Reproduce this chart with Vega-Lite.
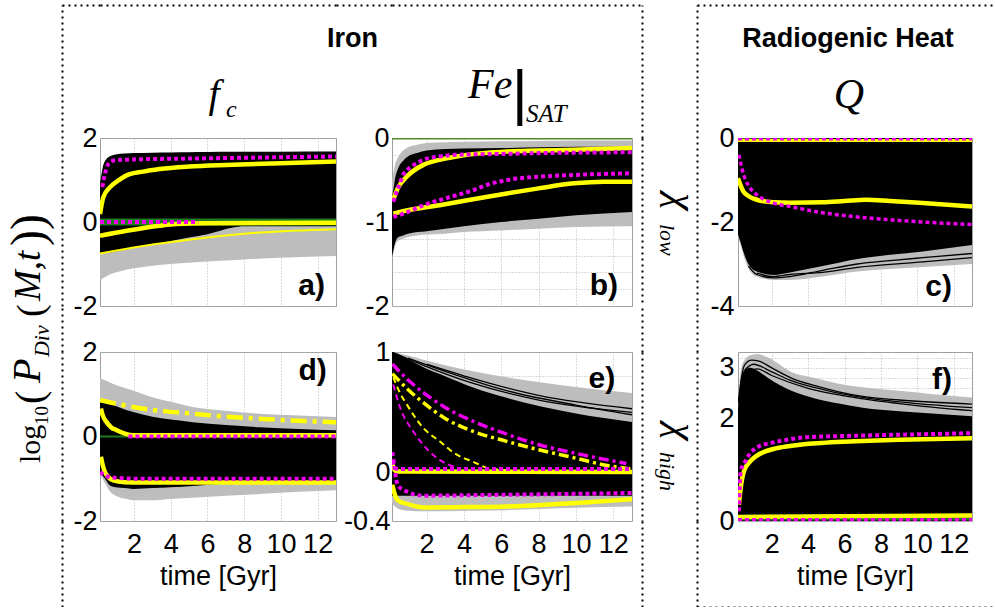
{
"$schema": "https://vega.github.io/schema/vega-lite/v6.json",
"background": "white",
"padding": {"left": 0, "top": 5, "right": 0, "bottom": 0},
"columns": 10,
"spacing": 0,
"bounds": "flush",
"align": "each",
"config": {"view": {"stroke": null}, "axis": {"labelFont": "Liberation Sans", "titleFont": "Liberation Sans"}},
"datasets": {
"a_band": [
{"b":"gray","t":0.15,"lo":-1.40,"hi":-0.05},{"b":"gray","t":0.3,"lo":-1.34,"hi":-0.05},{"b":"gray","t":0.5,"lo":-1.29,"hi":-0.05},{"b":"gray","t":0.75,"lo":-1.24,"hi":-0.05},{"b":"gray","t":1,"lo":-1.20,"hi":-0.05},{"b":"gray","t":1.5,"lo":-1.14,"hi":-0.05},{"b":"gray","t":2,"lo":-1.10,"hi":-0.05},{"b":"gray","t":3,"lo":-1.04,"hi":-0.05},{"b":"gray","t":4,"lo":-1.00,"hi":-0.05},{"b":"gray","t":5,"lo":-0.97,"hi":-0.05},{"b":"gray","t":6,"lo":-0.94,"hi":-0.05},{"b":"gray","t":8,"lo":-0.89,"hi":-0.05},{"b":"gray","t":10,"lo":-0.85,"hi":-0.05},{"b":"gray","t":13,"lo":-0.81,"hi":-0.05},
{"b":"black","t":0.15,"lo":-0.74,"hi":0.90},{"b":"black","t":0.3,"lo":-0.74,"hi":1.30},{"b":"black","t":0.5,"lo":-0.73,"hi":1.50},{"b":"black","t":0.75,"lo":-0.72,"hi":1.58},{"b":"black","t":1,"lo":-0.70,"hi":1.61},{"b":"black","t":1.5,"lo":-0.66,"hi":1.63},{"b":"black","t":2,"lo":-0.61,"hi":1.64},{"b":"black","t":3,"lo":-0.53,"hi":1.65},{"b":"black","t":4,"lo":-0.45,"hi":1.655},{"b":"black","t":5,"lo":-0.37,"hi":1.66},{"b":"black","t":6,"lo":-0.29,"hi":1.665},{"b":"black","t":7.4,"lo":-0.13,"hi":1.67},{"b":"black","t":8,"lo":-0.10,"hi":1.67},{"b":"black","t":10,"lo":-0.10,"hi":1.675},{"b":"black","t":13,"lo":-0.10,"hi":1.68}
],
"a_line": [
{"s":"g","t":0.15,"v":0},{"s":"g","t":13,"v":0},
{"s":"Y1","t":0.15,"v":0.19},{"s":"Y1","t":0.33,"v":0.59},{"s":"Y1","t":0.7,"v":0.83},{"s":"Y1","t":1.15,"v":0.99},{"s":"Y1","t":1.6,"v":1.11},{"s":"Y1","t":2.5,"v":1.20},{"s":"Y1","t":3.4,"v":1.26},{"s":"Y1","t":5,"v":1.32},{"s":"Y1","t":7,"v":1.36},{"s":"Y1","t":10,"v":1.40},{"s":"Y1","t":13,"v":1.44},
{"s":"Y2","t":0.15,"v":-0.33},{"s":"Y2","t":1.6,"v":-0.21},{"s":"Y2","t":3.4,"v":-0.09},{"s":"Y2","t":4.3,"v":-0.05},{"s":"Y2","t":6,"v":-0.03},{"s":"Y2","t":13,"v":-0.02},
{"s":"y1","t":0.15,"v":-0.75},{"s":"y1","t":2.5,"v":-0.57},{"s":"y1","t":5.2,"v":-0.41},{"s":"y1","t":8.9,"v":-0.25},{"s":"y1","t":13,"v":-0.17},
{"s":"y2","t":5.5,"v":0},{"s":"y2","t":13,"v":0},
{"s":"M1","t":0.28,"v":0.83},{"s":"M1","t":0.42,"v":1.15},{"s":"M1","t":0.7,"v":1.43},{"s":"M1","t":1,"v":1.47},{"s":"M1","t":2,"v":1.49},{"s":"M1","t":5,"v":1.51},{"s":"M1","t":8,"v":1.53},{"s":"M1","t":13,"v":1.56},
{"s":"M2","t":0.15,"v":0},{"s":"M2","t":5.5,"v":0}
],
"b_band": [
{"b":"gray","t":0.15,"lo":-1.45,"hi":-0.50},{"b":"gray","t":0.22,"lo":-1.38,"hi":-0.42},{"b":"gray","t":0.3,"lo":-1.30,"hi":-0.33},{"b":"gray","t":0.5,"lo":-1.22,"hi":-0.22},{"b":"gray","t":0.75,"lo":-1.20,"hi":-0.15},{"b":"gray","t":1,"lo":-1.18,"hi":-0.11},{"b":"gray","t":1.5,"lo":-1.16,"hi":-0.08},{"b":"gray","t":2,"lo":-1.15,"hi":-0.06},{"b":"gray","t":3,"lo":-1.14,"hi":-0.05},{"b":"gray","t":4,"lo":-1.12,"hi":-0.045},{"b":"gray","t":6,"lo":-1.10,"hi":-0.04},{"b":"gray","t":8,"lo":-1.08,"hi":-0.035},{"b":"gray","t":10,"lo":-1.06,"hi":-0.03},{"b":"gray","t":13,"lo":-1.05,"hi":-0.03},
{"b":"black","t":0.15,"lo":-1.42,"hi":-0.70},{"b":"black","t":0.22,"lo":-1.34,"hi":-0.62},{"b":"black","t":0.3,"lo":-1.26,"hi":-0.50},{"b":"black","t":0.5,"lo":-1.18,"hi":-0.35},{"b":"black","t":0.75,"lo":-1.16,"hi":-0.27},{"b":"black","t":1,"lo":-1.14,"hi":-0.22},{"b":"black","t":1.5,"lo":-1.12,"hi":-0.18},{"b":"black","t":2,"lo":-1.11,"hi":-0.15},{"b":"black","t":3,"lo":-1.08,"hi":-0.13},{"b":"black","t":4,"lo":-1.05,"hi":-0.125},{"b":"black","t":6,"lo":-1.00,"hi":-0.12},{"b":"black","t":8,"lo":-0.96,"hi":-0.11},{"b":"black","t":10,"lo":-0.92,"hi":-0.105},{"b":"black","t":13,"lo":-0.88,"hi":-0.10}
],
"b_line": [
{"s":"g","t":0.15,"v":0},{"s":"g","t":13,"v":0},
{"s":"Y1","t":0.22,"v":-0.73},{"s":"Y1","t":0.5,"v":-0.58},{"s":"Y1","t":0.94,"v":-0.46},{"s":"Y1","t":1.83,"v":-0.32},{"s":"Y1","t":2.7,"v":-0.26},{"s":"Y1","t":3.6,"v":-0.22},{"s":"Y1","t":5,"v":-0.18},{"s":"Y1","t":6.3,"v":-0.16},{"s":"Y1","t":8,"v":-0.15},{"s":"Y1","t":9.9,"v":-0.14},{"s":"Y1","t":13,"v":-0.12},
{"s":"Y2","t":0.22,"v":-0.90},{"s":"Y2","t":1,"v":-0.86},{"s":"Y2","t":2.7,"v":-0.80},{"s":"Y2","t":4.5,"v":-0.73},{"s":"Y2","t":6.3,"v":-0.66},{"s":"Y2","t":8,"v":-0.60},{"s":"Y2","t":9.9,"v":-0.54},{"s":"Y2","t":11.5,"v":-0.52},{"s":"Y2","t":13,"v":-0.52},
{"s":"M1","t":0.22,"v":-0.76},{"s":"M1","t":0.5,"v":-0.58},{"s":"M1","t":0.75,"v":-0.44},{"s":"M1","t":1.2,"v":-0.34},{"s":"M1","t":1.83,"v":-0.26},{"s":"M1","t":2.7,"v":-0.22},{"s":"M1","t":3.6,"v":-0.20},{"s":"M1","t":6,"v":-0.19},{"s":"M1","t":8.1,"v":-0.18},{"s":"M1","t":13,"v":-0.17},
{"s":"M2","t":0.22,"v":-0.94},{"s":"M2","t":1,"v":-0.88},{"s":"M2","t":1.83,"v":-0.80},{"s":"M2","t":3,"v":-0.72},{"s":"M2","t":4.5,"v":-0.62},{"s":"M2","t":5.5,"v":-0.54},{"s":"M2","t":6.3,"v":-0.50},{"s":"M2","t":8.1,"v":-0.46},{"s":"M2","t":9.9,"v":-0.44},{"s":"M2","t":13,"v":-0.42}
],
"c_band": [
{"b":"gray","t":0.15,"lo":-2.35,"hi":-2.2},{"b":"gray","t":0.3,"lo":-2.55,"hi":-2.2},{"b":"gray","t":0.44,"lo":-2.78,"hi":-2.2},{"b":"gray","t":0.72,"lo":-3.1,"hi":-2.2},{"b":"gray","t":1.18,"lo":-3.3,"hi":-2.2},{"b":"gray","t":2.1,"lo":-3.38,"hi":-2.2},{"b":"gray","t":3,"lo":-3.38,"hi":-2.2},{"b":"gray","t":4.8,"lo":-3.3,"hi":-2.2},{"b":"gray","t":6.7,"lo":-3.18,"hi":-2.2},{"b":"gray","t":8.5,"lo":-3.12,"hi":-2.2},{"b":"gray","t":10.3,"lo":-3.07,"hi":-2.2},{"b":"gray","t":13,"lo":-3.0,"hi":-2.2},
{"b":"black","t":0.15,"lo":-2.3,"hi":0},{"b":"black","t":0.3,"lo":-2.5,"hi":0},{"b":"black","t":0.44,"lo":-2.7,"hi":0},{"b":"black","t":0.72,"lo":-3.0,"hi":0},{"b":"black","t":1.18,"lo":-3.18,"hi":0},{"b":"black","t":2.1,"lo":-3.26,"hi":0},{"b":"black","t":3,"lo":-3.2,"hi":0},{"b":"black","t":4.8,"lo":-3.05,"hi":0},{"b":"black","t":6.7,"lo":-2.88,"hi":0},{"b":"black","t":8.5,"lo":-2.78,"hi":0},{"b":"black","t":10.3,"lo":-2.7,"hi":0},{"b":"black","t":13,"lo":-2.55,"hi":0}
],
"c_line": [
{"s":"g","t":0.15,"v":-0.01},{"s":"g","t":5,"v":-0.01},
{"s":"k1","t":0.72,"v":-3.05},{"s":"k1","t":1.18,"v":-3.25},{"s":"k1","t":2.1,"v":-3.33},{"s":"k1","t":3,"v":-3.3},{"s":"k1","t":4.8,"v":-3.15},{"s":"k1","t":6.7,"v":-3.0},{"s":"k1","t":8.5,"v":-2.92},{"s":"k1","t":10.3,"v":-2.85},{"s":"k1","t":13,"v":-2.75},
{"s":"k2","t":1.18,"v":-3.22},{"s":"k2","t":2.1,"v":-3.3},{"s":"k2","t":3,"v":-3.25},{"s":"k2","t":4.8,"v":-3.2},{"s":"k2","t":6.7,"v":-3.08},{"s":"k2","t":10.3,"v":-2.95},{"s":"k2","t":13,"v":-2.85},
{"s":"Y1","t":0.15,"v":-0.96},{"s":"Y1","t":0.44,"v":-1.27},{"s":"Y1","t":0.72,"v":-1.38},{"s":"Y1","t":1.18,"v":-1.47},{"s":"Y1","t":2.1,"v":-1.53},{"s":"Y1","t":3,"v":-1.54},{"s":"Y1","t":4.8,"v":-1.53},{"s":"Y1","t":6,"v":-1.50},{"s":"Y1","t":7.2,"v":-1.47},{"s":"Y1","t":8.5,"v":-1.50},{"s":"Y1","t":10.3,"v":-1.55},{"s":"Y1","t":13,"v":-1.63},
{"s":"y1","t":0.15,"v":-0.06},{"s":"y1","t":13,"v":-0.06},
{"s":"M1","t":0.2,"v":-0.40},{"s":"M1","t":0.35,"v":-0.70},{"s":"M1","t":0.53,"v":-0.96},{"s":"M1","t":0.8,"v":-1.18},{"s":"M1","t":1.18,"v":-1.35},{"s":"M1","t":2.1,"v":-1.55},{"s":"M1","t":3,"v":-1.63},{"s":"M1","t":4.8,"v":-1.78},{"s":"M1","t":7.2,"v":-1.90},{"s":"M1","t":10.3,"v":-2.00},{"s":"M1","t":13,"v":-2.06},
{"s":"m1","t":0.15,"v":-0.02},{"s":"m1","t":13,"v":-0.02}
],
"d_band": [
{"b":"gray","t":0.15,"lo":-0.90,"hi":1.37},{"b":"gray","t":0.42,"lo":-1.10,"hi":1.33},{"b":"gray","t":0.69,"lo":-1.30,"hi":1.28},{"b":"gray","t":1,"lo":-1.40,"hi":1.22},{"b":"gray","t":1.5,"lo":-1.47,"hi":1.15},{"b":"gray","t":1.96,"lo":-1.51,"hi":1.09},{"b":"gray","t":3,"lo":-1.51,"hi":0.93},{"b":"gray","t":4,"lo":-1.48,"hi":0.82},{"b":"gray","t":5.2,"lo":-1.45,"hi":0.70},{"b":"gray","t":7,"lo":-1.40,"hi":0.61},{"b":"gray","t":8.86,"lo":-1.36,"hi":0.54},{"b":"gray","t":11,"lo":-1.31,"hi":0.50},{"b":"gray","t":13,"lo":-1.27,"hi":0.46},
{"b":"black","t":0.15,"lo":-0.84,"hi":0.89},{"b":"black","t":0.42,"lo":-1.00,"hi":0.84},{"b":"black","t":0.69,"lo":-1.16,"hi":0.78},{"b":"black","t":1,"lo":-1.20,"hi":0.72},{"b":"black","t":1.5,"lo":-1.22,"hi":0.64},{"b":"black","t":1.96,"lo":-1.24,"hi":0.58},{"b":"black","t":3,"lo":-1.22,"hi":0.47},{"b":"black","t":4,"lo":-1.20,"hi":0.40},{"b":"black","t":5.2,"lo":-1.17,"hi":0.34},{"b":"black","t":7,"lo":-1.12,"hi":0.27},{"b":"black","t":8.86,"lo":-1.09,"hi":0.22},{"b":"black","t":11,"lo":-1.08,"hi":0.18},{"b":"black","t":13,"lo":-1.08,"hi":0.15}
],
"d_line": [
{"s":"g","t":0.15,"v":0},{"s":"g","t":13,"v":0},
{"s":"Ydd","t":0.15,"v":0.86},{"s":"Ydd","t":1,"v":0.78},{"s":"Ydd","t":1.96,"v":0.70},{"s":"Ydd","t":3,"v":0.63},{"s":"Ydd","t":5.2,"v":0.54},{"s":"Ydd","t":7,"v":0.47},{"s":"Ydd","t":8.86,"v":0.42},{"s":"Ydd","t":11,"v":0.37},{"s":"Ydd","t":13,"v":0.34},
{"s":"Y1","t":0.2,"v":0.66},{"s":"Y1","t":0.3,"v":0.50},{"s":"Y1","t":0.51,"v":0.34},{"s":"Y1","t":0.75,"v":0.22},{"s":"Y1","t":1.06,"v":0.15},{"s":"Y1","t":1.5,"v":0.07},{"s":"Y1","t":1.96,"v":0.03},{"s":"Y1","t":3,"v":0.03},{"s":"Y1","t":13,"v":0.03},
{"s":"Y2","t":0.2,"v":-0.48},{"s":"Y2","t":0.3,"v":-0.68},{"s":"Y2","t":0.42,"v":-0.84},{"s":"Y2","t":0.6,"v":-0.96},{"s":"Y2","t":0.87,"v":-1.04},{"s":"Y2","t":1.5,"v":-1.08},{"s":"Y2","t":2.5,"v":-1.09},{"s":"Y2","t":13,"v":-1.09},
{"s":"M1","t":1.7,"v":0},{"s":"M1","t":13,"v":0},
{"s":"M2","t":0.15,"v":-0.84},{"s":"M2","t":0.42,"v":-0.92},{"s":"M2","t":0.69,"v":-0.96},{"s":"M2","t":1.5,"v":-0.99},{"s":"M2","t":2.5,"v":-1.0},{"s":"M2","t":13,"v":-1.0}
],
"e_band": [
{"b":"gray","t":0.15,"lo":0.3,"hi":1.0},{"b":"gray","t":0.5,"lo":0.3,"hi":0.99},{"b":"gray","t":1,"lo":0.3,"hi":0.97},{"b":"gray","t":1.83,"lo":0.3,"hi":0.935},{"b":"gray","t":3,"lo":0.3,"hi":0.89},{"b":"gray","t":4.5,"lo":0.3,"hi":0.84},{"b":"gray","t":6.29,"lo":0.3,"hi":0.79},{"b":"gray","t":8.07,"lo":0.3,"hi":0.75},{"b":"gray","t":10,"lo":0.3,"hi":0.71},{"b":"gray","t":13,"lo":0.3,"hi":0.66},
{"b":"gray2","t":0.15,"lo":-0.25,"hi":-0.15},{"b":"gray2","t":0.5,"lo":-0.30,"hi":-0.15},{"b":"gray2","t":1,"lo":-0.315,"hi":-0.15},{"b":"gray2","t":1.83,"lo":-0.32,"hi":-0.15},{"b":"gray2","t":3,"lo":-0.32,"hi":-0.15},{"b":"gray2","t":4.5,"lo":-0.315,"hi":-0.15},{"b":"gray2","t":6.29,"lo":-0.31,"hi":-0.15},{"b":"gray2","t":8.07,"lo":-0.30,"hi":-0.15},{"b":"gray2","t":10,"lo":-0.29,"hi":-0.15},{"b":"gray2","t":13,"lo":-0.28,"hi":-0.15},
{"b":"black","t":0.15,"lo":-0.19,"hi":1.0},{"b":"black","t":0.5,"lo":-0.19,"hi":0.98},{"b":"black","t":1,"lo":-0.19,"hi":0.94},{"b":"black","t":1.83,"lo":-0.19,"hi":0.874},{"b":"black","t":3,"lo":-0.19,"hi":0.80},{"b":"black","t":4.5,"lo":-0.19,"hi":0.706},{"b":"black","t":6.29,"lo":-0.19,"hi":0.62},{"b":"black","t":8.07,"lo":-0.19,"hi":0.55},{"b":"black","t":10,"lo":-0.19,"hi":0.49},{"b":"black","t":13,"lo":-0.19,"hi":0.42}
],
"e_line": [
{"s":"k1","t":0.15,"v":1.0},{"s":"k1","t":1.83,"v":0.89},{"s":"k1","t":4.5,"v":0.74},{"s":"k1","t":8.07,"v":0.60},{"s":"k1","t":13,"v":0.50},
{"s":"k2","t":1,"v":0.95},{"s":"k2","t":3,"v":0.84},{"s":"k2","t":6.29,"v":0.68},{"s":"k2","t":10,"v":0.56},{"s":"k2","t":13,"v":0.48},
{"s":"k3","t":2,"v":0.90},{"s":"k3","t":4.5,"v":0.78},{"s":"k3","t":8,"v":0.64},{"s":"k3","t":13,"v":0.53},
{"s":"Y1","t":0.17,"v":0.07},{"s":"Y1","t":0.3,"v":0.02},{"s":"Y1","t":0.5,"v":0.01},{"s":"Y1","t":13,"v":0.005},
{"s":"Y2","t":0.17,"v":-0.10},{"s":"Y2","t":0.3,"v":-0.18},{"s":"Y2","t":0.49,"v":-0.232},{"s":"Y2","t":1,"v":-0.26},{"s":"Y2","t":1.83,"v":-0.288},{"s":"Y2","t":4,"v":-0.285},{"s":"Y2","t":6.29,"v":-0.28},{"s":"Y2","t":9,"v":-0.26},{"s":"Y2","t":13,"v":-0.22},
{"s":"M1","t":0.17,"v":0.10},{"s":"M1","t":0.35,"v":0.035},{"s":"M1","t":0.6,"v":0.03},{"s":"M1","t":13,"v":0.03},
{"s":"M2","t":0.17,"v":0.17},{"s":"M2","t":0.28,"v":0.05},{"s":"M2","t":0.38,"v":-0.06},{"s":"M2","t":0.49,"v":-0.11},{"s":"M2","t":1,"v":-0.16},{"s":"M2","t":1.83,"v":-0.19},{"s":"M2","t":5,"v":-0.185},{"s":"M2","t":13,"v":-0.168},
{"s":"mdd","t":0.17,"v":0.90},{"s":"mdd","t":1,"v":0.77},{"s":"mdd","t":1.83,"v":0.664},{"s":"mdd","t":3,"v":0.54},{"s":"mdd","t":4.5,"v":0.426},{"s":"mdd","t":6.29,"v":0.32},{"s":"mdd","t":8.07,"v":0.23},{"s":"mdd","t":10,"v":0.16},{"s":"mdd","t":12.7,"v":0.076},
{"s":"ydd","t":0.17,"v":0.82},{"s":"ydd","t":1,"v":0.69},{"s":"ydd","t":1.83,"v":0.58},{"s":"ydd","t":3,"v":0.45},{"s":"ydd","t":4.5,"v":0.342},{"s":"ydd","t":6.29,"v":0.26},{"s":"ydd","t":8.07,"v":0.188},{"s":"ydd","t":10,"v":0.12},{"s":"ydd","t":11.6,"v":0.062},{"s":"ydd","t":13,"v":0.03},
{"s":"yd","t":0.22,"v":0.79},{"s":"yd","t":0.58,"v":0.66},{"s":"yd","t":0.94,"v":0.566},{"s":"yd","t":1.83,"v":0.37},{"s":"yd","t":2.72,"v":0.258},{"s":"yd","t":3.5,"v":0.16},{"s":"yd","t":4.5,"v":0.09},{"s":"yd","t":5.4,"v":0.034},{"s":"yd","t":6.5,"v":0.02},
{"s":"md","t":0.22,"v":0.73},{"s":"md","t":0.58,"v":0.54},{"s":"md","t":1.29,"v":0.342},{"s":"md","t":2.0,"v":0.20},{"s":"md","t":2.72,"v":0.104},{"s":"md","t":3.25,"v":0.062},{"s":"md","t":3.7,"v":0.04}
],
"f_band": [
{"b":"gray","t":0.15,"lo":0,"hi":2.3},{"b":"gray","t":0.3,"lo":0,"hi":2.95},{"b":"gray","t":0.5,"lo":0,"hi":3.15},{"b":"gray","t":0.8,"lo":0,"hi":3.24},{"b":"gray","t":1.2,"lo":0,"hi":3.27},{"b":"gray","t":1.8,"lo":0,"hi":3.2},{"b":"gray","t":3.08,"lo":0,"hi":2.92},{"b":"gray","t":4.38,"lo":0,"hi":2.8},{"b":"gray","t":5.68,"lo":0,"hi":2.69},{"b":"gray","t":7,"lo":0,"hi":2.62},{"b":"gray","t":9,"lo":0,"hi":2.55},{"b":"gray","t":11,"lo":0,"hi":2.48},{"b":"gray","t":13,"lo":0,"hi":2.42},
{"b":"black","t":0.15,"lo":0,"hi":2.2},{"b":"black","t":0.3,"lo":0,"hi":2.75},{"b":"black","t":0.5,"lo":0,"hi":2.95},{"b":"black","t":0.8,"lo":0,"hi":3.0},{"b":"black","t":1.2,"lo":0,"hi":2.95},{"b":"black","t":1.8,"lo":0,"hi":2.8},{"b":"black","t":3.08,"lo":0,"hi":2.55},{"b":"black","t":4.38,"lo":0,"hi":2.4},{"b":"black","t":5.68,"lo":0,"hi":2.3},{"b":"black","t":7,"lo":0,"hi":2.22},{"b":"black","t":9,"lo":0,"hi":2.15},{"b":"black","t":11,"lo":0,"hi":2.1},{"b":"black","t":13,"lo":0,"hi":2.05}
],
"f_line": [
{"s":"g","t":0.15,"v":0.04},{"s":"g","t":13,"v":0.04},
{"s":"k1","t":0.15,"v":2.3},{"s":"k1","t":0.5,"v":3.05},{"s":"k1","t":0.9,"v":3.15},{"s":"k1","t":1.3,"v":3.13},{"s":"k1","t":2,"v":3.0},{"s":"k1","t":3.08,"v":2.8},{"s":"k1","t":4.38,"v":2.65},{"s":"k1","t":5.68,"v":2.53},{"s":"k1","t":7,"v":2.44},{"s":"k1","t":9,"v":2.37},{"s":"k1","t":13,"v":2.29},
{"s":"k2","t":0.5,"v":2.95},{"s":"k2","t":1,"v":3.07},{"s":"k2","t":2,"v":2.92},{"s":"k2","t":3,"v":2.76},{"s":"k2","t":5,"v":2.56},{"s":"k2","t":7,"v":2.42},{"s":"k2","t":10,"v":2.3},{"s":"k2","t":13,"v":2.22},
{"s":"k3","t":0.6,"v":2.9},{"s":"k3","t":1.2,"v":2.98},{"s":"k3","t":2,"v":2.85},{"s":"k3","t":4,"v":2.6},{"s":"k3","t":6,"v":2.45},{"s":"k3","t":9,"v":2.3},{"s":"k3","t":13,"v":2.16},
{"s":"Y1","t":0.2,"v":0.32},{"s":"Y1","t":0.3,"v":0.65},{"s":"Y1","t":0.48,"v":0.98},{"s":"Y1","t":0.8,"v":1.16},{"s":"Y1","t":1.19,"v":1.28},{"s":"Y1","t":2.09,"v":1.41},{"s":"Y1","t":3,"v":1.47},{"s":"Y1","t":3.89,"v":1.51},{"s":"Y1","t":5,"v":1.535},{"s":"Y1","t":6.59,"v":1.56},{"s":"Y1","t":9,"v":1.59},{"s":"Y1","t":13,"v":1.62},
{"s":"Y2","t":0.15,"v":0.08},{"s":"Y2","t":13,"v":0.11},
{"s":"M1","t":0.2,"v":0.19},{"s":"M1","t":0.3,"v":0.98},{"s":"M1","t":0.57,"v":1.18},{"s":"M1","t":0.8,"v":1.32},{"s":"M1","t":1.19,"v":1.44},{"s":"M1","t":2.09,"v":1.54},{"s":"M1","t":3,"v":1.60},{"s":"M1","t":3.89,"v":1.64},{"s":"M1","t":6.59,"v":1.67},{"s":"M1","t":9,"v":1.69},{"s":"M1","t":13,"v":1.72},
{"s":"M2","t":0.15,"v":0.02},{"s":"M2","t":13,"v":0.02}
]
},
"concat": [
{"width":62,"height":133,"mark":{"type":"point","opacity":0},"encoding":{}},
{"width":38,"height":133,"mark":{"type":"point","opacity":0},"encoding":{"x":{"datum":0.5,"type":"quantitative","scale":{"domain":[0,1],"nice":false,"zero":false},"axis":{"orient":"top","domain":true,"domainColor":"#000","domainDash":[2,4],"domainWidth":2,"ticks":false,"labels":false,"grid":false,"title":null}},"y":{"datum":0.5,"type":"quantitative","scale":{"domain":[0,1],"nice":false,"zero":false},"axis":{"orient":"left","domain":true,"domainColor":"#000","domainDash":[2,4],"domainWidth":2,"ticks":false,"labels":false,"grid":false,"title":null}}}},
{"width":236,"height":133,
 "encoding":{"x":{"type":"quantitative","scale":{"domain":[0,1],"nice":false,"zero":false},"axis":{"orient":"top","domain":true,"domainColor":"#000","domainDash":[2,4],"domainWidth":2,"ticks":false,"labels":false,"grid":false,"title":null}},"y":{"type":"quantitative","scale":{"domain":[0,1],"nice":false,"zero":false,"reverse":true},"axis":null}},
 "layer":[
 {"data":{"values":[{"txt":"f"}]},"mark":{"type":"text","font":"Liberation Serif","fontStyle":"italic","fontSize":40,"align":"center","baseline":"alphabetic"},"encoding":{"text":{"field":"txt"},"x":{"datum":0.483},"y":{"datum":0.767}}},
 {"data":{"values":[{"txt":"c"}]},"mark":{"type":"text","font":"Liberation Serif","fontStyle":"italic","fontSize":24,"align":"left","baseline":"alphabetic"},"encoding":{"text":{"field":"txt"},"x":{"datum":0.534},"y":{"datum":0.842}}}
]},
{"width":56,"height":133,
 "encoding":{"x":{"type":"quantitative","scale":{"domain":[0,1],"nice":false,"zero":false},"axis":{"orient":"top","domain":true,"domainColor":"#000","domainDash":[2,4],"domainWidth":2,"ticks":false,"labels":false,"grid":false,"title":null}},"y":{"type":"quantitative","scale":{"domain":[0,1],"nice":false,"zero":false,"reverse":true},"axis":null}},
 "layer":[
 {"data":{"values":[{"txt":"Iron"}]},"mark":{"type":"text","font":"Liberation Sans","fontWeight":"bold","fontSize":27,"align":"center","baseline":"alphabetic"},"encoding":{"text":{"field":"txt"},"x":{"datum":0.295},"y":{"datum":0.316}}}
]},
{"width":240,"height":133,
 "encoding":{"x":{"type":"quantitative","scale":{"domain":[0,1],"nice":false,"zero":false},"axis":{"orient":"top","domain":true,"domainColor":"#000","domainDash":[2,4],"domainWidth":2,"ticks":false,"labels":false,"grid":false,"title":null}},"y":{"type":"quantitative","scale":{"domain":[0,1],"nice":false,"zero":false,"reverse":true},"axis":null}},
 "layer":[
 {"data":{"values":[{"txt":"Fe"}]},"mark":{"type":"text","font":"Liberation Serif","fontStyle":"italic","fontSize":42,"align":"left","baseline":"alphabetic"},"encoding":{"text":{"field":"txt"},"x":{"datum":0.317},"y":{"datum":0.699}}},
 {"data":{"values":[{"txt":"|"}]},"mark":{"type":"text","font":"Liberation Sans","fontSize":62,"align":"center","baseline":"alphabetic"},"encoding":{"text":{"field":"txt"},"x":{"datum":0.533},"y":{"datum":0.812}}},
 {"data":{"values":[{"txt":"SAT"}]},"mark":{"type":"text","font":"Liberation Serif","fontStyle":"italic","fontSize":25,"align":"left","baseline":"alphabetic"},"encoding":{"text":{"field":"txt"},"x":{"datum":0.558},"y":{"datum":0.88}}}
]},
{"width":10,"height":133,"mark":{"type":"point","opacity":0},"encoding":{"x":{"datum":0.5,"type":"quantitative","scale":{"domain":[0,1],"nice":false,"zero":false},"axis":{"orient":"top","domain":true,"domainColor":"#000","domainDash":[2,4],"domainWidth":2,"ticks":false,"labels":false,"grid":false,"title":null}}}},
{"width":55,"height":133,"mark":{"type":"point","opacity":0},"encoding":{"y":{"datum":0.5,"type":"quantitative","scale":{"domain":[0,1],"nice":false,"zero":false},"axis":{"orient":"left","domain":true,"domainColor":"#000","domainDash":[2,4],"domainWidth":2,"ticks":false,"labels":false,"grid":false,"title":null}}}},
{"width":41,"height":133,"mark":{"type":"point","opacity":0},"encoding":{"x":{"datum":0.5,"type":"quantitative","scale":{"domain":[0,1],"nice":false,"zero":false},"axis":{"orient":"top","domain":true,"domainColor":"#000","domainDash":[2,4],"domainWidth":2,"ticks":false,"labels":false,"grid":false,"title":null}},"y":{"datum":0.5,"type":"quantitative","scale":{"domain":[0,1],"nice":false,"zero":false},"axis":{"orient":"left","domain":true,"domainColor":"#000","domainDash":[2,4],"domainWidth":2,"ticks":false,"labels":false,"grid":false,"title":null}}}},
{"width":234,"height":133,
 "encoding":{"x":{"type":"quantitative","scale":{"domain":[0,1],"nice":false,"zero":false},"axis":{"orient":"top","domain":true,"domainColor":"#000","domainDash":[2,4],"domainWidth":2,"ticks":false,"labels":false,"grid":false,"title":null}},"y":{"type":"quantitative","scale":{"domain":[0,1],"nice":false,"zero":false,"reverse":true},"axis":null}},
 "layer":[
 {"data":{"values":[{"txt":"Radiogenic Heat"}]},"mark":{"type":"text","font":"Liberation Sans","fontWeight":"bold","fontSize":27,"align":"center","baseline":"alphabetic"},"encoding":{"text":{"field":"txt"},"x":{"datum":0.47},"y":{"datum":0.316}}},
 {"data":{"values":[{"txt":"Q"}]},"mark":{"type":"text","font":"Liberation Serif","fontStyle":"italic","fontSize":42,"align":"center","baseline":"alphabetic"},"encoding":{"text":{"field":"txt"},"x":{"datum":0.474},"y":{"datum":0.774}}}
]},
{"width":28,"height":133,"mark":{"type":"point","opacity":0},"encoding":{"x":{"datum":0.5,"type":"quantitative","scale":{"domain":[0,1],"nice":false,"zero":false},"axis":{"orient":"top","domain":true,"domainColor":"#000","domainDash":[2,4],"domainWidth":2,"ticks":false,"labels":false,"grid":false,"title":null}}}},

{"width":62,"height":168,"encoding":{"x":{"datum":0.65,"type":"quantitative","scale":{"domain":[0,1],"nice":false,"zero":false},"axis":null},"y":{"datum":1.935,"type":"quantitative","scale":{"domain":[0,1],"nice":false,"zero":false,"reverse":true},"axis":null}},"layer":[
 {"data":{"values":[{"txt":"log"}]},"mark":{"type":"text","font":"Liberation Serif","fontSize":30,"angle":270,"align":"left","baseline":"alphabetic"},"encoding":{"text":{"field":"txt"}}},
 {"data":{"values":[{"txt":"10"}]},"mark":{"type":"text","font":"Liberation Serif","fontSize":19,"angle":270,"align":"left","baseline":"alphabetic","dx":38,"dy":8},"encoding":{"text":{"field":"txt"}}},
 {"data":{"values":[{"txt":"("}]},"mark":{"type":"text","font":"Liberation Serif","fontSize":40,"angle":270,"align":"left","baseline":"alphabetic","dx":59,"dy":3},"encoding":{"text":{"field":"txt"}}},
 {"data":{"values":[{"txt":"P"}]},"mark":{"type":"text","font":"Liberation Serif","fontStyle":"italic","fontSize":40,"angle":270,"align":"left","baseline":"alphabetic","dx":80},"encoding":{"text":{"field":"txt"}}},
 {"data":{"values":[{"txt":"Div"}]},"mark":{"type":"text","font":"Liberation Serif","fontStyle":"italic","fontSize":22,"angle":270,"align":"left","baseline":"alphabetic","dx":106,"dy":9},"encoding":{"text":{"field":"txt"}}},
 {"data":{"values":[{"txt":"("}]},"mark":{"type":"text","font":"Liberation Serif","fontSize":38,"angle":270,"align":"left","baseline":"alphabetic","dx":146,"dy":3},"encoding":{"text":{"field":"txt"}}},
 {"data":{"values":[{"txt":"M,t"}]},"mark":{"type":"text","font":"Liberation Serif","fontStyle":"italic","fontSize":37,"angle":270,"align":"left","baseline":"alphabetic","dx":162},"encoding":{"text":{"field":"txt"}}},
 {"data":{"values":[{"txt":"))"}]},"mark":{"type":"text","font":"Liberation Serif","fontSize":48,"angle":270,"align":"left","baseline":"alphabetic","dx":217,"dy":4},"encoding":{"text":{"field":"txt"}}}
]},
{"width":38,"height":168,"mark":{"type":"point","opacity":0},"encoding":{"y":{"datum":0.5,"type":"quantitative","scale":{"domain":[0,1],"nice":false,"zero":false},"axis":{"orient":"left","domain":true,"domainColor":"#000","domainDash":[2,4],"domainWidth":2,"ticks":false,"labels":false,"grid":false,"title":null}}}},
{"width":236,"height":168,"view":{"stroke":"#9e9e9e"},
 "encoding":{"x":{"type":"quantitative","scale":{"domain":[0.15,13],"nice":false,"zero":false},"axis":{"orient":"bottom","values":[2,4,6,8,10,12],"labels":false,"ticks":false,"domain":false,"title":null,"grid":true,"gridColor":"#b5b5b5","gridDash":[1,2]}},"y":{"type":"quantitative","scale":{"domain":[-2,2],"nice":false,"zero":false},"axis":{"orient":"left","values":[-2,0,2],"labelExpr":"'' + datum.value","labelFontSize":27,"labelColor":"#000","labelPadding":3,"labelOverlap":false,"ticks":false,"domain":false,"title":null,"grid":true,"gridColor":"#b5b5b5","gridDash":[1,2]}}},
 "layer":[
  {"data":{"name":"a_band"},"transform":[{"filter":"datum.b == 'gray'"}],"mark":{"type":"area","color":"#bdbdbd","interpolate":"monotone","clip":true},"encoding":{"x":{"field":"t"},"y":{"field":"lo"},"y2":{"field":"hi"}}},
  {"data":{"name":"a_band"},"transform":[{"filter":"datum.b == 'black'"}],"mark":{"type":"area","color":"#000","interpolate":"monotone","clip":true},"encoding":{"x":{"field":"t"},"y":{"field":"lo"},"y2":{"field":"hi"}}},
  {"data":{"name":"a_line"},"transform":[{"filter":"datum.s == 'g'"}],"mark":{"type":"line","color":"#1e7b1e","strokeWidth":7,"clip":true},"encoding":{"x":{"field":"t"},"y":{"field":"v"}}},
  {"data":{"name":"a_line"},"transform":[{"filter":{"field":"s","oneOf":["y1","y2"]}}],"mark":{"type":"line","color":"#ffff00","strokeWidth":2,"interpolate":"monotone","clip":true},"encoding":{"x":{"field":"t"},"y":{"field":"v"},"detail":{"field":"s"}}},
  {"data":{"name":"a_line"},"transform":[{"filter":{"field":"s","oneOf":["Y1","Y2"]}}],"mark":{"type":"line","color":"#ffff00","strokeWidth":4.5,"interpolate":"monotone","clip":true},"encoding":{"x":{"field":"t"},"y":{"field":"v"},"detail":{"field":"s"}}},
  {"data":{"name":"a_line"},"transform":[{"filter":{"field":"s","oneOf":["M1","M2"]}}],"mark":{"type":"line","color":"#ee00ee","strokeWidth":4,"strokeDash":[4,3],"interpolate":"monotone","clip":true},"encoding":{"x":{"field":"t"},"y":{"field":"v"},"detail":{"field":"s"}}},
  {"data":{"values":[{"lab":"a)"}]},"mark":{"type":"text","font":"Liberation Sans","fontSize":30,"fontWeight":"bold","align":"right","baseline":"alphabetic"},"encoding":{"text":{"field":"lab"},"x":{"datum":12.4},"y":{"datum":-1.74}}}
 ]},
{"width":56,"height":168,"mark":{"type":"point","opacity":0},"encoding":{}},
{"width":240,"height":168,"view":{"stroke":"#9e9e9e"},
 "encoding":{"x":{"type":"quantitative","scale":{"domain":[0.15,13],"nice":false,"zero":false},"axis":{"orient":"bottom","values":[2,4,6,8,10,12],"labels":false,"ticks":false,"domain":false,"title":null,"grid":true,"gridColor":"#b5b5b5","gridDash":[1,2]}},"y":{"type":"quantitative","scale":{"domain":[-2,0],"nice":false,"zero":false},"axis":{"orient":"left","values":[-2,-1.8,-1.6,-1.4,-1.2,-1,-0.8,-0.6,-0.4,-0.2,0],"labelExpr":"abs(datum.value - round(datum.value)) < 0.01 ? '' + round(datum.value) : ''","labelFontSize":27,"labelColor":"#000","labelPadding":3,"labelOverlap":false,"ticks":false,"domain":false,"title":null,"grid":true,"gridColor":"#b5b5b5","gridDash":[1,2]}}},
 "layer":[
  {"data":{"name":"b_band"},"transform":[{"filter":"datum.b == 'gray'"}],"mark":{"type":"area","color":"#bdbdbd","interpolate":"monotone","clip":true},"encoding":{"x":{"field":"t"},"y":{"field":"lo"},"y2":{"field":"hi"}}},
  {"data":{"name":"b_band"},"transform":[{"filter":"datum.b == 'black'"}],"mark":{"type":"area","color":"#000","interpolate":"monotone","clip":true},"encoding":{"x":{"field":"t"},"y":{"field":"lo"},"y2":{"field":"hi"}}},
  {"data":{"name":"b_line"},"transform":[{"filter":"datum.s == 'g'"}],"mark":{"type":"line","color":"#4f8a2a","strokeWidth":3,"clip":true},"encoding":{"x":{"field":"t"},"y":{"field":"v"}}},
  {"data":{"name":"b_line"},"transform":[{"filter":{"field":"s","oneOf":["Y1","Y2"]}}],"mark":{"type":"line","color":"#ffff00","strokeWidth":4.5,"interpolate":"monotone","clip":true},"encoding":{"x":{"field":"t"},"y":{"field":"v"},"detail":{"field":"s"}}},
  {"data":{"name":"b_line"},"transform":[{"filter":{"field":"s","oneOf":["M1","M2"]}}],"mark":{"type":"line","color":"#ee00ee","strokeWidth":4,"strokeDash":[4,3],"interpolate":"monotone","clip":true},"encoding":{"x":{"field":"t"},"y":{"field":"v"},"detail":{"field":"s"}}},
  {"data":{"values":[{"lab":"b)"}]},"mark":{"type":"text","font":"Liberation Sans","fontSize":30,"fontWeight":"bold","align":"right","baseline":"alphabetic"},"encoding":{"text":{"field":"lab"},"x":{"datum":12.25},"y":{"datum":-1.87}}}
 ]},
{"width":10,"height":168,"mark":{"type":"point","opacity":0},"encoding":{}},
{"width":55,"height":168,"encoding":{"y":{"datum":0.327,"type":"quantitative","scale":{"domain":[0,1],"nice":false,"zero":false,"reverse":true},"axis":{"orient":"left","domain":true,"domainColor":"#000","domainDash":[2,4],"domainWidth":2,"ticks":false,"labels":false,"grid":false,"title":null}}},"layer":[
 {"data":{"values":[{"txt":"χ"}]},"mark":{"type":"text","font":"Liberation Serif","fontStyle":"italic","fontSize":40,"angle":90,"align":"left","baseline":"alphabetic"},"encoding":{"text":{"field":"txt"},"x":{"datum":0.491,"type":"quantitative","scale":{"domain":[0,1],"nice":false,"zero":false},"axis":null}}},
 {"data":{"values":[{"txt":"low"}]},"mark":{"type":"text","font":"Liberation Serif","fontStyle":"italic","fontSize":22,"angle":90,"align":"left","baseline":"alphabetic","dx":31,"dy":9},"encoding":{"text":{"field":"txt"},"x":{"datum":0.491,"type":"quantitative","scale":{"domain":[0,1],"nice":false,"zero":false},"axis":null}}}
]},
{"width":41,"height":168,"mark":{"type":"point","opacity":0},"encoding":{"y":{"datum":0.5,"type":"quantitative","scale":{"domain":[0,1],"nice":false,"zero":false},"axis":{"orient":"left","domain":true,"domainColor":"#000","domainDash":[2,4],"domainWidth":2,"ticks":false,"labels":false,"grid":false,"title":null}}}},
{"width":234,"height":168,"view":{"stroke":"#9e9e9e"},
 "encoding":{"x":{"type":"quantitative","scale":{"domain":[0.15,13],"nice":false,"zero":false},"axis":{"orient":"bottom","values":[2,4,6,8,10,12],"labels":false,"ticks":false,"domain":false,"title":null,"grid":true,"gridColor":"#b5b5b5","gridDash":[1,2]}},"y":{"type":"quantitative","scale":{"domain":[-4,0],"nice":false,"zero":false},"axis":{"orient":"left","values":[-4,-2,0],"labelExpr":"'' + datum.value","labelFontSize":27,"labelColor":"#000","labelPadding":4,"labelOverlap":false,"ticks":false,"domain":false,"title":null,"grid":true,"gridColor":"#b5b5b5","gridDash":[1,2]}}},
 "layer":[
  {"data":{"name":"c_band"},"transform":[{"filter":"datum.b == 'gray'"}],"mark":{"type":"area","color":"#bdbdbd","interpolate":"monotone","clip":true},"encoding":{"x":{"field":"t"},"y":{"field":"lo"},"y2":{"field":"hi"}}},
  {"data":{"name":"c_band"},"transform":[{"filter":"datum.b == 'black'"}],"mark":{"type":"area","color":"#000","interpolate":"monotone","clip":true},"encoding":{"x":{"field":"t"},"y":{"field":"lo"},"y2":{"field":"hi"}}},
  {"data":{"name":"c_line"},"transform":[{"filter":{"field":"s","oneOf":["k1","k2"]}}],"mark":{"type":"line","color":"#000","strokeWidth":1.3,"interpolate":"monotone","clip":true},"encoding":{"x":{"field":"t"},"y":{"field":"v"},"detail":{"field":"s"}}},
  {"data":{"name":"c_line"},"transform":[{"filter":"datum.s == 'g'"}],"mark":{"type":"line","color":"#2e6b1e","strokeWidth":3,"clip":true},"encoding":{"x":{"field":"t"},"y":{"field":"v"}}},
  {"data":{"name":"c_line"},"transform":[{"filter":"datum.s == 'y1'"}],"mark":{"type":"line","color":"#ffff00","strokeWidth":3,"clip":true},"encoding":{"x":{"field":"t"},"y":{"field":"v"}}},
  {"data":{"name":"c_line"},"transform":[{"filter":"datum.s == 'Y1'"}],"mark":{"type":"line","color":"#ffff00","strokeWidth":4.5,"interpolate":"monotone","clip":true},"encoding":{"x":{"field":"t"},"y":{"field":"v"}}},
  {"data":{"name":"c_line"},"transform":[{"filter":{"field":"s","oneOf":["M1","m1"]}}],"mark":{"type":"line","color":"#ee00ee","strokeWidth":3.5,"strokeDash":[4,3],"interpolate":"monotone","clip":true},"encoding":{"x":{"field":"t"},"y":{"field":"v"},"detail":{"field":"s"}}},
  {"data":{"values":[{"lab":"c)"}]},"mark":{"type":"text","font":"Liberation Sans","fontSize":30,"fontWeight":"bold","align":"right","baseline":"alphabetic"},"encoding":{"text":{"field":"lab"},"x":{"datum":11.9},"y":{"datum":-3.76}}}
 ]},
{"width":28,"height":168,"mark":{"type":"point","opacity":0},"encoding":{}},

{"width":62,"height":46,"mark":{"type":"point","opacity":0},"encoding":{}},
{"width":38,"height":46,"mark":{"type":"point","opacity":0},"encoding":{"y":{"datum":0.5,"type":"quantitative","scale":{"domain":[0,1],"nice":false,"zero":false},"axis":{"orient":"left","domain":true,"domainColor":"#000","domainDash":[2,4],"domainWidth":2,"ticks":false,"labels":false,"grid":false,"title":null}}}},
{"width":236,"height":46,"mark":{"type":"point","opacity":0},"encoding":{}},
{"width":56,"height":46,"mark":{"type":"point","opacity":0},"encoding":{}},
{"width":240,"height":46,"mark":{"type":"point","opacity":0},"encoding":{}},
{"width":10,"height":46,"mark":{"type":"point","opacity":0},"encoding":{}},
{"width":55,"height":46,"mark":{"type":"point","opacity":0},"encoding":{"y":{"datum":0.5,"type":"quantitative","scale":{"domain":[0,1],"nice":false,"zero":false},"axis":{"orient":"left","domain":true,"domainColor":"#000","domainDash":[2,4],"domainWidth":2,"ticks":false,"labels":false,"grid":false,"title":null}}}},
{"width":41,"height":46,"mark":{"type":"point","opacity":0},"encoding":{"y":{"datum":0.5,"type":"quantitative","scale":{"domain":[0,1],"nice":false,"zero":false},"axis":{"orient":"left","domain":true,"domainColor":"#000","domainDash":[2,4],"domainWidth":2,"ticks":false,"labels":false,"grid":false,"title":null}}}},
{"width":234,"height":46,"mark":{"type":"point","opacity":0},"encoding":{}},
{"width":28,"height":46,"mark":{"type":"point","opacity":0},"encoding":{}},

{"width":62,"height":169,"mark":{"type":"point","opacity":0},"encoding":{}},
{"width":38,"height":169,"mark":{"type":"point","opacity":0},"encoding":{"y":{"datum":0.5,"type":"quantitative","scale":{"domain":[0,1],"nice":false,"zero":false},"axis":{"orient":"left","domain":true,"domainColor":"#000","domainDash":[2,4],"domainWidth":2,"ticks":false,"labels":false,"grid":false,"title":null}}}},
{"width":236,"height":169,"view":{"stroke":"#9e9e9e"},
 "encoding":{"x":{"type":"quantitative","scale":{"domain":[0.15,13],"nice":false,"zero":false},"axis":{"orient":"bottom","values":[2,4,6,8,10,12],"labelFontSize":27,"labelColor":"#000","labelPadding":10,"labelFlush":false,"labelOverlap":false,"ticks":false,"domain":false,"title":"time [Gyr]","titleFontSize":27,"titleFontWeight":"normal","titleColor":"#000","titlePadding":6,"grid":true,"gridColor":"#b5b5b5","gridDash":[1,2]}},"y":{"type":"quantitative","scale":{"domain":[-2,2],"nice":false,"zero":false},"axis":{"orient":"left","values":[-2,0,2],"labelExpr":"'' + datum.value","labelFontSize":27,"labelColor":"#000","labelPadding":3,"labelOverlap":false,"ticks":false,"domain":false,"title":null,"grid":true,"gridColor":"#b5b5b5","gridDash":[1,2]}}},
 "layer":[
  {"data":{"name":"d_band"},"transform":[{"filter":"datum.b == 'gray'"}],"mark":{"type":"area","color":"#bdbdbd","interpolate":"monotone","clip":true},"encoding":{"x":{"field":"t"},"y":{"field":"lo"},"y2":{"field":"hi"}}},
  {"data":{"name":"d_band"},"transform":[{"filter":"datum.b == 'black'"}],"mark":{"type":"area","color":"#000","interpolate":"monotone","clip":true},"encoding":{"x":{"field":"t"},"y":{"field":"lo"},"y2":{"field":"hi"}}},
  {"data":{"name":"d_line"},"transform":[{"filter":"datum.s == 'g'"}],"mark":{"type":"line","color":"#1e7b1e","strokeWidth":2,"clip":true},"encoding":{"x":{"field":"t"},"y":{"field":"v"}}},
  {"data":{"name":"d_line"},"transform":[{"filter":"datum.s == 'Ydd'"}],"mark":{"type":"line","color":"#ffff00","strokeWidth":4.5,"strokeDash":[16,6,4,6],"interpolate":"monotone","clip":true},"encoding":{"x":{"field":"t"},"y":{"field":"v"}}},
  {"data":{"name":"d_line"},"transform":[{"filter":{"field":"s","oneOf":["Y1","Y2"]}}],"mark":{"type":"line","color":"#ffff00","strokeWidth":4.5,"interpolate":"monotone","clip":true},"encoding":{"x":{"field":"t"},"y":{"field":"v"},"detail":{"field":"s"}}},
  {"data":{"name":"d_line"},"transform":[{"filter":{"field":"s","oneOf":["M1","M2"]}}],"mark":{"type":"line","color":"#ee00ee","strokeWidth":4,"strokeDash":[4,3],"interpolate":"monotone","clip":true},"encoding":{"x":{"field":"t"},"y":{"field":"v"},"detail":{"field":"s"}}},
  {"data":{"values":[{"lab":"d)"}]},"mark":{"type":"text","font":"Liberation Sans","fontSize":30,"fontWeight":"bold","align":"right","baseline":"alphabetic"},"encoding":{"text":{"field":"lab"},"x":{"datum":12.5},"y":{"datum":1.34}}}
 ]},
{"width":56,"height":169,"mark":{"type":"point","opacity":0},"encoding":{}},
{"width":240,"height":169,"view":{"stroke":"#9e9e9e"},
 "encoding":{"x":{"type":"quantitative","scale":{"domain":[0.15,13],"nice":false,"zero":false},"axis":{"orient":"bottom","values":[2,4,6,8,10,12],"labelFontSize":27,"labelColor":"#000","labelPadding":10,"labelFlush":false,"labelOverlap":false,"ticks":false,"domain":false,"title":"time [Gyr]","titleFontSize":27,"titleFontWeight":"normal","titleColor":"#000","titlePadding":6,"grid":true,"gridColor":"#b5b5b5","gridDash":[1,2]}},"y":{"type":"quantitative","scale":{"domain":[-0.4,1],"nice":false,"zero":false},"axis":{"orient":"left","values":[-0.4,-0.2,0,0.2,0.4,0.6,0.8,1],"labelExpr":"datum.value == -0.4 ? '-0.4' : (datum.value == 0 ? '0' : (datum.value == 1 ? '1' : ''))","labelFontSize":27,"labelColor":"#000","labelPadding":2,"labelOverlap":false,"ticks":false,"domain":false,"title":null,"grid":true,"gridColor":"#b5b5b5","gridDash":[1,2]}}},
 "layer":[
  {"data":{"name":"e_band"},"transform":[{"filter":"datum.b != 'black'"}],"mark":{"type":"area","color":"#bdbdbd","interpolate":"monotone","clip":true},"encoding":{"x":{"field":"t"},"y":{"field":"lo"},"y2":{"field":"hi"},"detail":{"field":"b"}}},
  {"data":{"name":"e_band"},"transform":[{"filter":"datum.b == 'black'"}],"mark":{"type":"area","color":"#000","interpolate":"monotone","clip":true},"encoding":{"x":{"field":"t"},"y":{"field":"lo"},"y2":{"field":"hi"}}},
  {"data":{"name":"e_line"},"transform":[{"filter":{"field":"s","oneOf":["k1","k2","k3"]}}],"mark":{"type":"line","color":"#000","strokeWidth":1.3,"interpolate":"monotone","clip":true},"encoding":{"x":{"field":"t"},"y":{"field":"v"},"detail":{"field":"s"}}},
  {"data":{"name":"e_line"},"transform":[{"filter":{"field":"s","oneOf":["Y1","Y2"]}}],"mark":{"type":"line","color":"#ffff00","strokeWidth":4.5,"interpolate":"monotone","clip":true},"encoding":{"x":{"field":"t"},"y":{"field":"v"},"detail":{"field":"s"}}},
  {"data":{"name":"e_line"},"transform":[{"filter":"datum.s == 'ydd'"}],"mark":{"type":"line","color":"#ffff00","strokeWidth":3.5,"strokeDash":[10,4,3,4],"interpolate":"monotone","clip":true},"encoding":{"x":{"field":"t"},"y":{"field":"v"}}},
  {"data":{"name":"e_line"},"transform":[{"filter":"datum.s == 'yd'"}],"mark":{"type":"line","color":"#ffff00","strokeWidth":2,"strokeDash":[6,4],"interpolate":"monotone","clip":true},"encoding":{"x":{"field":"t"},"y":{"field":"v"}}},
  {"data":{"name":"e_line"},"transform":[{"filter":"datum.s == 'mdd'"}],"mark":{"type":"line","color":"#ee00ee","strokeWidth":3.5,"strokeDash":[10,4,3,4],"interpolate":"monotone","clip":true},"encoding":{"x":{"field":"t"},"y":{"field":"v"}}},
  {"data":{"name":"e_line"},"transform":[{"filter":"datum.s == 'md'"}],"mark":{"type":"line","color":"#ee00ee","strokeWidth":2,"strokeDash":[6,4],"interpolate":"monotone","clip":true},"encoding":{"x":{"field":"t"},"y":{"field":"v"}}},
  {"data":{"name":"e_line"},"transform":[{"filter":{"field":"s","oneOf":["M1","M2"]}}],"mark":{"type":"line","color":"#ee00ee","strokeWidth":4,"strokeDash":[4,3],"interpolate":"monotone","clip":true},"encoding":{"x":{"field":"t"},"y":{"field":"v"},"detail":{"field":"s"}}},
  {"data":{"values":[{"lab":"e)"}]},"mark":{"type":"text","font":"Liberation Sans","fontSize":30,"fontWeight":"bold","align":"right","baseline":"alphabetic"},"encoding":{"text":{"field":"lab"},"x":{"datum":12.1},"y":{"datum":0.70}}}
 ]},
{"width":10,"height":169,"mark":{"type":"point","opacity":0},"encoding":{}},
{"width":55,"height":169,"encoding":{"y":{"datum":0.42,"type":"quantitative","scale":{"domain":[0,1],"nice":false,"zero":false,"reverse":true},"axis":{"orient":"left","domain":true,"domainColor":"#000","domainDash":[2,4],"domainWidth":2,"ticks":false,"labels":false,"grid":false,"title":null}}},"layer":[
 {"data":{"values":[{"txt":"χ"}]},"mark":{"type":"text","font":"Liberation Serif","fontStyle":"italic","fontSize":40,"angle":90,"align":"left","baseline":"alphabetic"},"encoding":{"text":{"field":"txt"},"x":{"datum":0.491,"type":"quantitative","scale":{"domain":[0,1],"nice":false,"zero":false},"axis":null}}},
 {"data":{"values":[{"txt":"high"}]},"mark":{"type":"text","font":"Liberation Serif","fontStyle":"italic","fontSize":22,"angle":90,"align":"left","baseline":"alphabetic","dx":29,"dy":9},"encoding":{"text":{"field":"txt"},"x":{"datum":0.491,"type":"quantitative","scale":{"domain":[0,1],"nice":false,"zero":false},"axis":null}}}
]},
{"width":41,"height":169,"mark":{"type":"point","opacity":0},"encoding":{"y":{"datum":0.5,"type":"quantitative","scale":{"domain":[0,1],"nice":false,"zero":false},"axis":{"orient":"left","domain":true,"domainColor":"#000","domainDash":[2,4],"domainWidth":2,"ticks":false,"labels":false,"grid":false,"title":null}}}},
{"width":234,"height":169,"view":{"stroke":"#9e9e9e"},
 "encoding":{"x":{"type":"quantitative","scale":{"domain":[0.15,13],"nice":false,"zero":false},"axis":{"orient":"bottom","values":[2,4,6,8,10,12],"labelFontSize":27,"labelColor":"#000","labelPadding":10,"labelFlush":false,"labelOverlap":false,"ticks":false,"domain":false,"title":"time [Gyr]","titleFontSize":27,"titleFontWeight":"normal","titleColor":"#000","titlePadding":6,"grid":true,"gridColor":"#b5b5b5","gridDash":[1,2]}},"y":{"type":"quantitative","scale":{"domain":[0,3.31],"nice":false,"zero":false},"axis":{"orient":"left","values":[0,2,2.2,2.4,2.6,2.8,3,3.2],"labelExpr":"(datum.value == 0 || datum.value == 2 || datum.value == 3) ? '' + datum.value : ''","labelFontSize":27,"labelColor":"#000","labelPadding":4,"labelOverlap":false,"ticks":false,"domain":false,"title":null,"grid":true,"gridColor":"#b5b5b5","gridDash":[1,2]}}},
 "layer":[
  {"data":{"name":"f_band"},"transform":[{"filter":"datum.b == 'gray'"}],"mark":{"type":"area","color":"#bdbdbd","interpolate":"monotone","clip":true},"encoding":{"x":{"field":"t"},"y":{"field":"lo"},"y2":{"field":"hi"}}},
  {"data":{"name":"f_band"},"transform":[{"filter":"datum.b == 'black'"}],"mark":{"type":"area","color":"#000","interpolate":"monotone","clip":true},"encoding":{"x":{"field":"t"},"y":{"field":"lo"},"y2":{"field":"hi"}}},
  {"data":{"name":"f_line"},"transform":[{"filter":{"field":"s","oneOf":["k1","k2","k3"]}}],"mark":{"type":"line","color":"#000","strokeWidth":1.3,"interpolate":"monotone","clip":true},"encoding":{"x":{"field":"t"},"y":{"field":"v"},"detail":{"field":"s"}}},
  {"data":{"name":"f_line"},"transform":[{"filter":"datum.s == 'g'"}],"mark":{"type":"line","color":"#1e7b1e","strokeWidth":3,"clip":true},"encoding":{"x":{"field":"t"},"y":{"field":"v"}}},
  {"data":{"name":"f_line"},"transform":[{"filter":{"field":"s","oneOf":["Y1","Y2"]}}],"mark":{"type":"line","color":"#ffff00","strokeWidth":4.5,"interpolate":"monotone","clip":true},"encoding":{"x":{"field":"t"},"y":{"field":"v"},"detail":{"field":"s"}}},
  {"data":{"name":"f_line"},"transform":[{"filter":{"field":"s","oneOf":["M1","M2"]}}],"mark":{"type":"line","color":"#ee00ee","strokeWidth":4,"strokeDash":[4,3],"interpolate":"monotone","clip":true},"encoding":{"x":{"field":"t"},"y":{"field":"v"},"detail":{"field":"s"}}},
  {"data":{"values":[{"lab":"f)"}]},"mark":{"type":"text","font":"Liberation Sans","fontSize":30,"fontWeight":"bold","align":"right","baseline":"alphabetic"},"encoding":{"text":{"field":"lab"},"x":{"datum":11.9},"y":{"datum":2.58}}}
 ]},
{"width":28,"height":169,"mark":{"type":"point","opacity":0},"encoding":{}},

{"width":62,"height":86,"mark":{"type":"point","opacity":0},"encoding":{}},
{"width":38,"height":86,"mark":{"type":"point","opacity":0},"encoding":{"y":{"datum":0.5,"type":"quantitative","scale":{"domain":[0,1],"nice":false,"zero":false},"axis":{"orient":"left","domain":true,"domainColor":"#000","domainDash":[2,4],"domainWidth":2,"ticks":false,"labels":false,"grid":false,"title":null}}}},
{"width":236,"height":86,"mark":{"type":"point","opacity":0},"encoding":{}},
{"width":56,"height":86,"mark":{"type":"point","opacity":0},"encoding":{}},
{"width":240,"height":86,"mark":{"type":"point","opacity":0},"encoding":{}},
{"width":10,"height":86,"mark":{"type":"point","opacity":0},"encoding":{}},
{"width":55,"height":86,"mark":{"type":"point","opacity":0},"encoding":{"y":{"datum":0.5,"type":"quantitative","scale":{"domain":[0,1],"nice":false,"zero":false},"axis":{"orient":"left","domain":true,"domainColor":"#000","domainDash":[2,4],"domainWidth":2,"ticks":false,"labels":false,"grid":false,"title":null}}}},
{"width":41,"height":86,"mark":{"type":"point","opacity":0},"encoding":{"x":{"datum":0.5,"type":"quantitative","scale":{"domain":[0,1],"nice":false,"zero":false},"axis":{"orient":"bottom","domain":true,"domainColor":"#000","domainDash":[2,4],"domainWidth":2,"ticks":false,"labels":false,"grid":false,"title":null}},"y":{"datum":0.5,"type":"quantitative","scale":{"domain":[0,1],"nice":false,"zero":false},"axis":{"orient":"left","domain":true,"domainColor":"#000","domainDash":[2,4],"domainWidth":2,"ticks":false,"labels":false,"grid":false,"title":null}}}},
{"width":234,"height":86,"mark":{"type":"point","opacity":0},"encoding":{"x":{"datum":0.5,"type":"quantitative","scale":{"domain":[0,1],"nice":false,"zero":false},"axis":{"orient":"bottom","domain":true,"domainColor":"#000","domainDash":[2,4],"domainWidth":2,"ticks":false,"labels":false,"grid":false,"title":null}}}},
{"width":28,"height":86,"mark":{"type":"point","opacity":0},"encoding":{"x":{"datum":0.5,"type":"quantitative","scale":{"domain":[0,1],"nice":false,"zero":false},"axis":{"orient":"bottom","domain":true,"domainColor":"#000","domainDash":[2,4],"domainWidth":2,"ticks":false,"labels":false,"grid":false,"title":null}}}}
]
}
